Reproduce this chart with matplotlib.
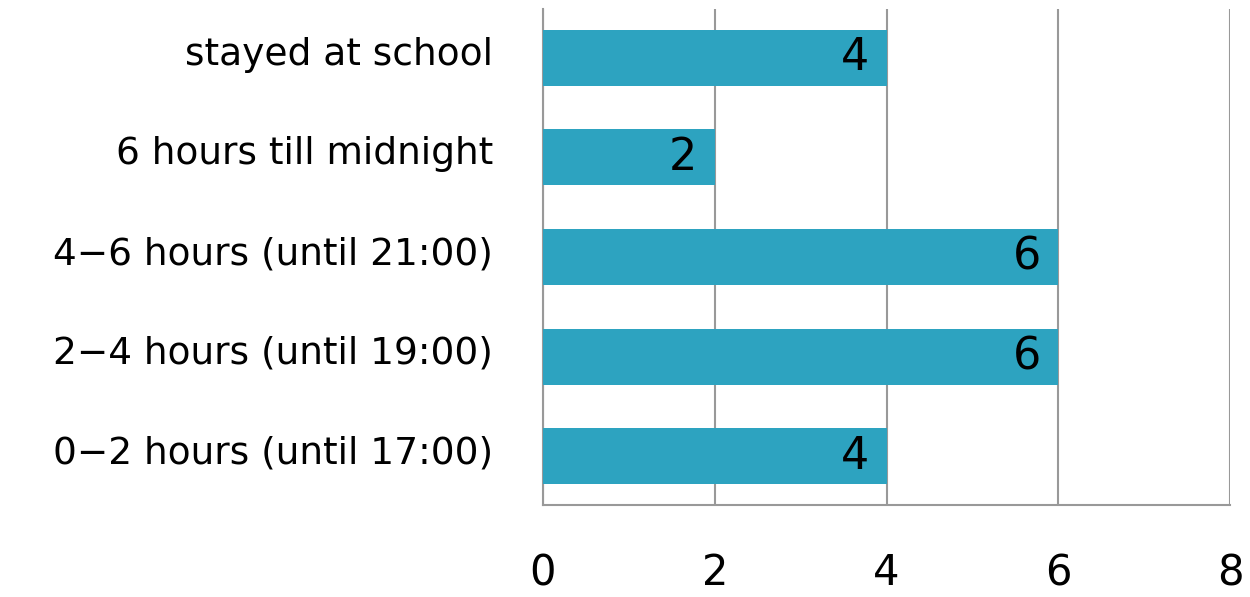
import matplotlib
matplotlib.use("Agg")
import matplotlib.pyplot as plt
from matplotlib.transforms import ScaledTranslation

categories = ["0-2 hours (until 17:00)", "2-4 hours (until 19:00)", "4-6 hours (until 21:00)",
              "6 hours till midnight", "stayed at school"]
values = [4, 6, 6, 2, 4]
xticks = [0, 2, 4, 6, 8]

plt.rcParams['font.family'] = ['DejaVu Sans']
fig = plt.figure(figsize=(12.5, 5.97), dpi=100)
ax = fig.add_axes([0.4344, 0.154, 0.5496, 0.831])

pos = list(range(len(categories)))
bars = ax.barh(pos, values, height=0.56, color="#2DA3C0", zorder=3)
ax.set_ylim(-0.49, 4.49)
ax.set_xlim(0, 8)
ax.set_yticks(pos)
ax.set_yticklabels([c.replace("-", "\u2212") for c in categories], fontsize=27)
ax.set_xticks(xticks)
ax.set_xticklabels([str(t) for t in xticks], fontsize=30)
ax.tick_params(axis='y', length=0, pad=36)
ax.tick_params(axis='x', length=0, pad=34)
ax.grid(axis='x', color="#999999", linewidth=1.5, zorder=0)
for s in ["top", "right"]:
    ax.spines[s].set_visible(False)
ax.spines["left"].set_color("#999999")
ax.spines["left"].set_linewidth(1.5)
ax.spines["bottom"].set_color("#999999")
ax.spines["bottom"].set_linewidth(1.5)

off = ScaledTranslation(0, 5 / 72, fig.dpi_scale_trans)
for lbl in ax.get_yticklabels():
    lbl.set_transform(lbl.get_transform() + off)

for b, v in zip(bars, values):
    ax.text(v - 0.2, b.get_y() + b.get_height() / 2, str(v), ha="right", va="center",
            fontsize=32, color="black", zorder=4)

fig.savefig("out.png", dpi=100)
